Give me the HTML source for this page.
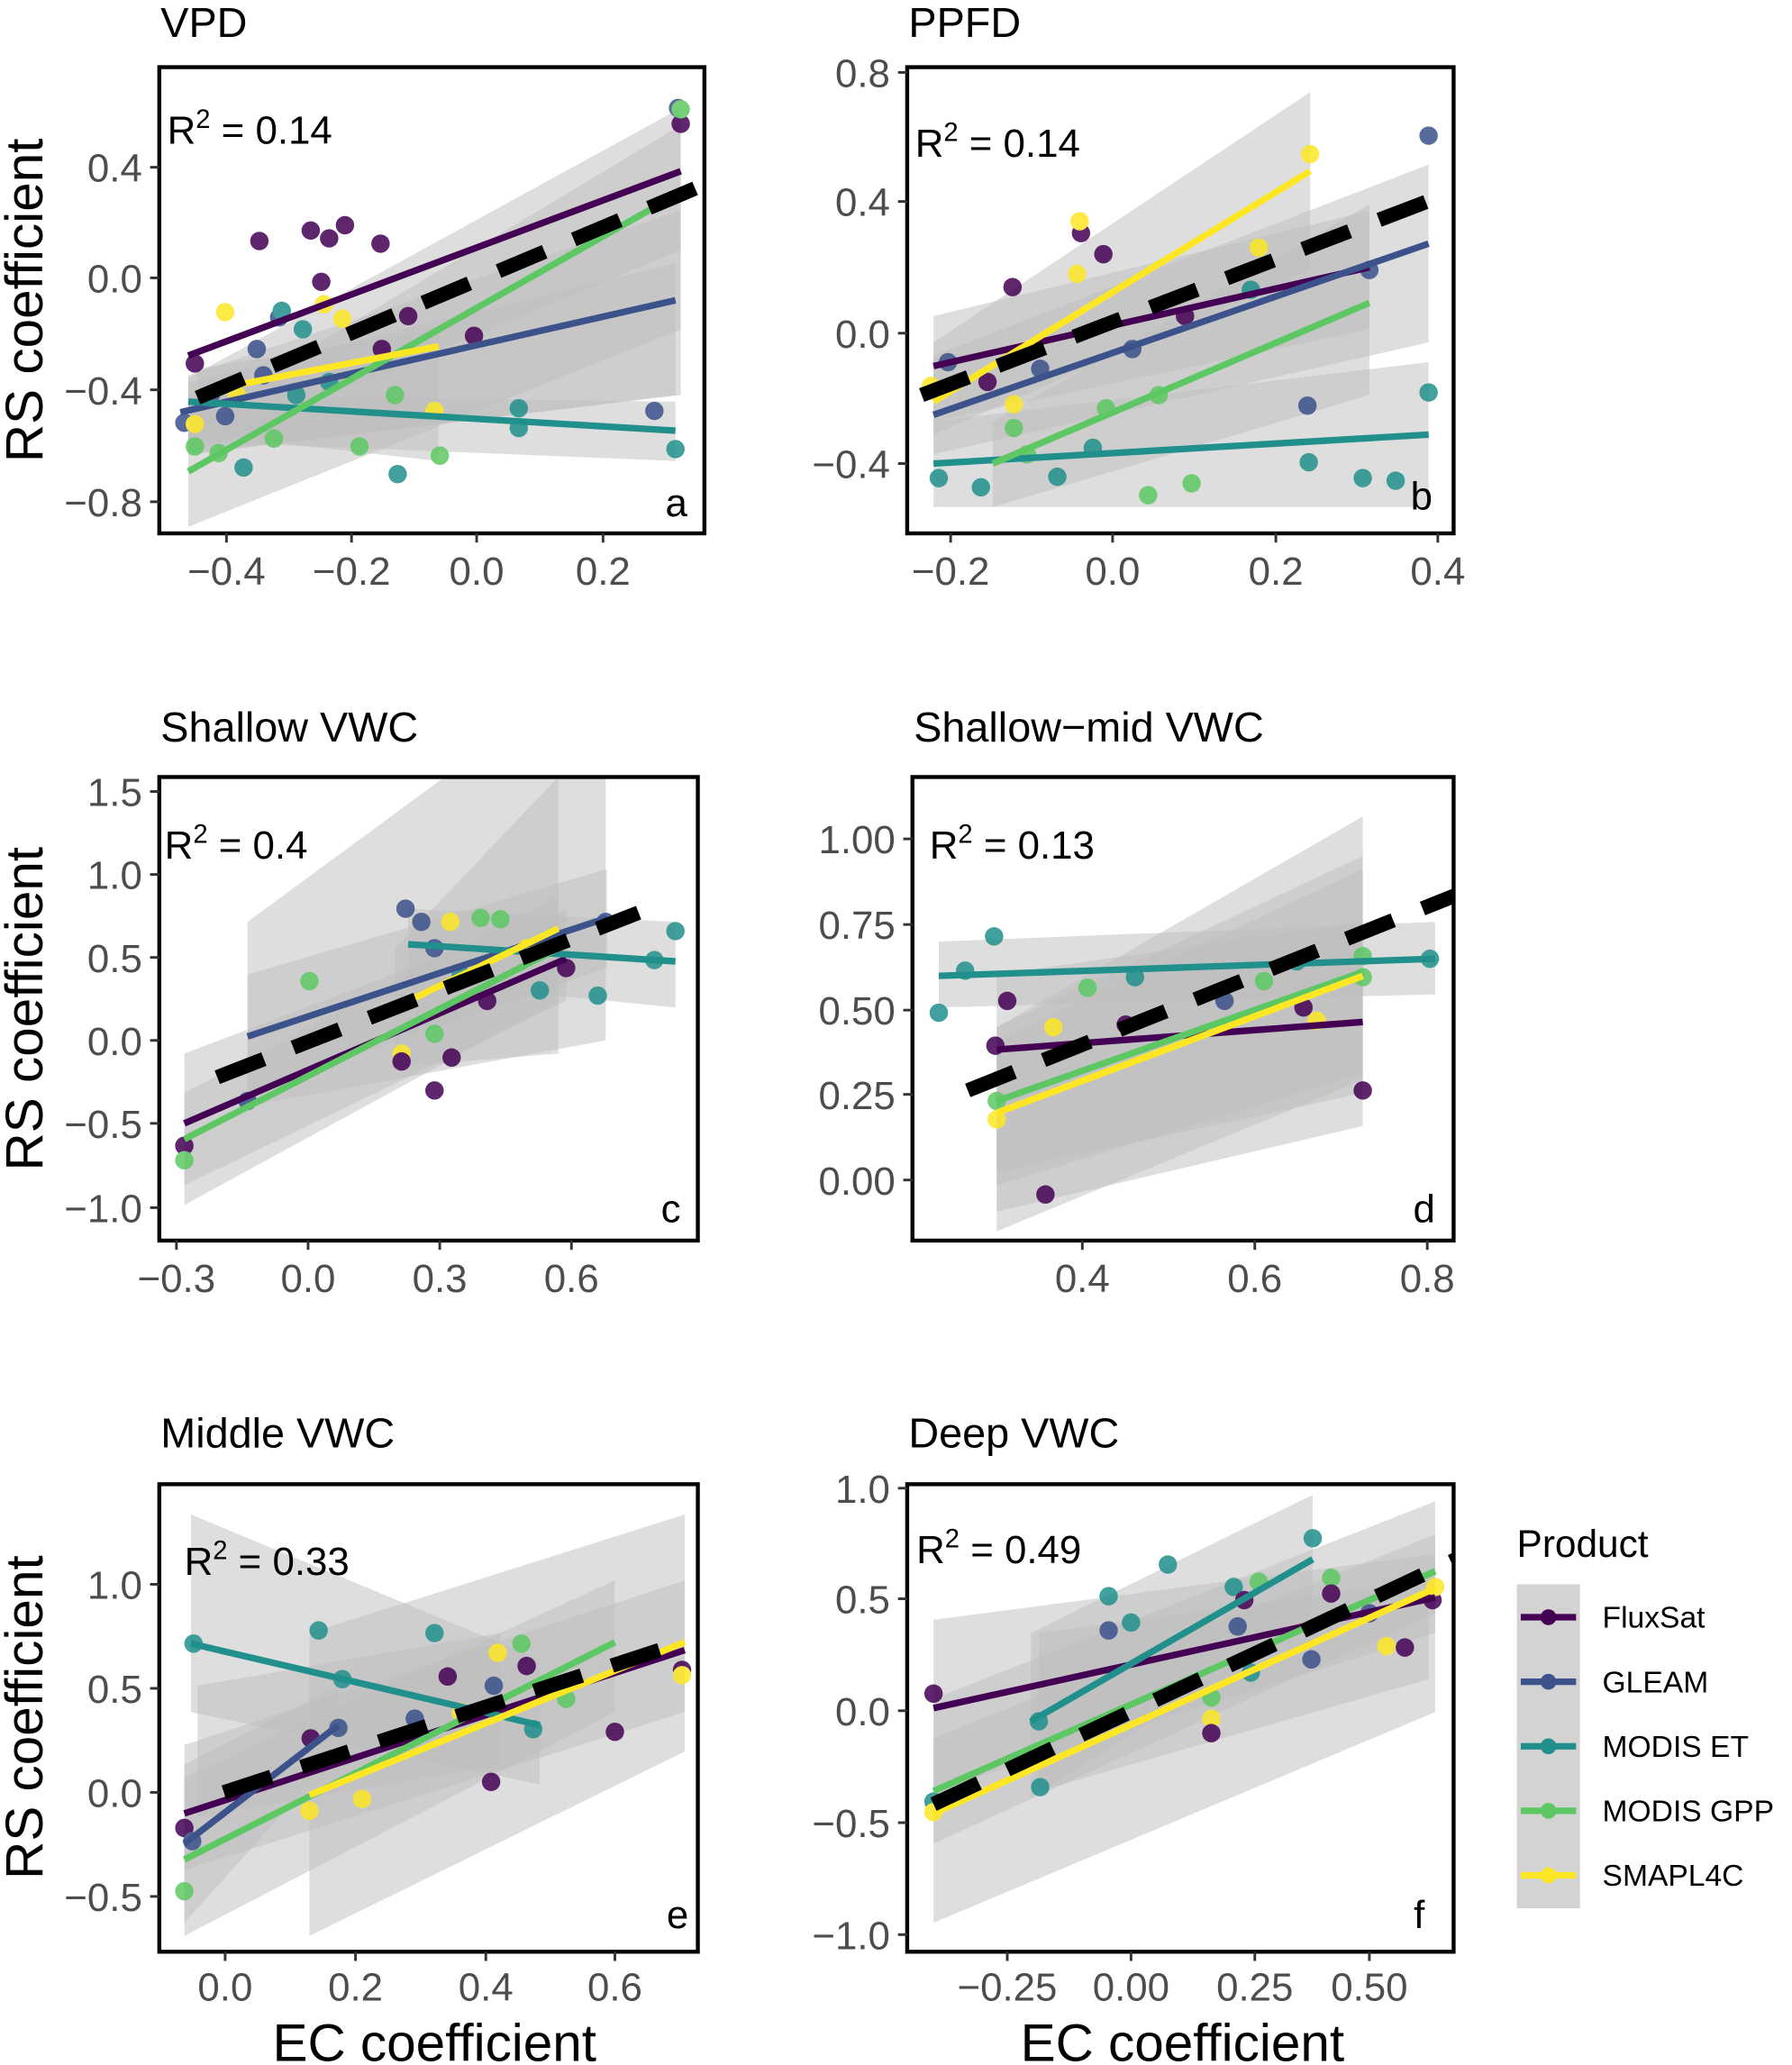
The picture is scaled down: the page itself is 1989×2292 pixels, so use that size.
<!DOCTYPE html>
<html><head><meta charset="utf-8"><style>
html,body{margin:0;padding:0;background:#fff}
svg{display:block}
text{font-family:"Liberation Sans",sans-serif}
.tk{font-size:30px;fill:#4d4d4d}
.tt{font-size:32px;fill:#000}
.r2{font-size:30px;fill:#000}
.lb{font-size:30px;fill:#000}
.ax{font-size:40px;fill:#000}
.bx{fill:none;stroke:#000;stroke-width:3}
.band{fill:#bdbdbd;opacity:.5}
.ln{stroke-width:5;fill:none}
.bk{stroke:#000;stroke-width:11;stroke-dasharray:38 24;fill:none}
.tic{stroke:#333;stroke-width:2}
</style></head><body>
<svg width="1989" height="2292" viewBox="0 0 1361 1568" preserveAspectRatio="none" xmlns="http://www.w3.org/2000/svg">
<defs>
<clipPath id="ca"><rect x="121" y="51" width="414" height="354"/></clipPath>
<clipPath id="cb"><rect x="689" y="51" width="415" height="354"/></clipPath>
<clipPath id="cc"><rect x="121" y="590" width="409" height="352"/></clipPath>
<clipPath id="cd"><rect x="693" y="590" width="411" height="352"/></clipPath>
<clipPath id="ce"><rect x="121" y="1127" width="409" height="355"/></clipPath>
<clipPath id="cf"><rect x="689" y="1127" width="415" height="355"/></clipPath>
</defs>

<!-- ===== Panel a ===== -->
<text class="tt" x="122" y="28">VPD</text>
<g clip-path="url(#ca)">
<polygon class="band" points="143,287 517,82 517,190 143,345"/>
<polygon class="band" points="143,285 517,160 517,300 143,345"/>
<polygon class="band" points="143,290 513,200 513,300 143,345"/>
<polygon class="band" points="143,300 513,305 513,350 143,335"/>
<polygon class="band" points="143,320 517,95 517,250 143,400"/>
<polygon class="band" points="150,280 333,250 333,350 150,330"/>
<g opacity=".85">
<circle cx="197" cy="183" r="7" fill="#440154"/><circle cx="236" cy="175" r="7" fill="#440154"/><circle cx="250" cy="181" r="7" fill="#440154"/><circle cx="262" cy="171" r="7" fill="#440154"/><circle cx="289" cy="185" r="7" fill="#440154"/><circle cx="244" cy="214" r="7" fill="#440154"/><circle cx="517" cy="94" r="7" fill="#440154"/><circle cx="212" cy="241" r="7" fill="#3b528b"/><circle cx="148" cy="276" r="7" fill="#440154"/><circle cx="195" cy="265" r="7" fill="#3b528b"/><circle cx="140" cy="321" r="7" fill="#3b528b"/><circle cx="515" cy="82" r="7" fill="#3b528b"/><circle cx="497" cy="312" r="7" fill="#3b528b"/><circle cx="171" cy="316" r="7" fill="#3b528b"/><circle cx="214" cy="236" r="7" fill="#21908c"/><circle cx="230" cy="250" r="7" fill="#21908c"/><circle cx="302" cy="360" r="7" fill="#21908c"/><circle cx="394" cy="310" r="7" fill="#21908c"/><circle cx="394" cy="325" r="7" fill="#21908c"/><circle cx="513" cy="341" r="7" fill="#21908c"/><circle cx="185" cy="355" r="7" fill="#21908c"/><circle cx="517" cy="83" r="7" fill="#5dc863"/><circle cx="273" cy="339" r="7" fill="#5dc863"/><circle cx="334" cy="346" r="7" fill="#5dc863"/><circle cx="148" cy="339" r="7" fill="#5dc863"/><circle cx="166" cy="344" r="7" fill="#5dc863"/><circle cx="208" cy="333" r="7" fill="#5dc863"/><circle cx="171" cy="237" r="7" fill="#fde725"/><circle cx="246" cy="231" r="7" fill="#fde725"/><circle cx="260" cy="242" r="7" fill="#fde725"/><circle cx="148" cy="322" r="7" fill="#fde725"/><circle cx="180" cy="300" r="7" fill="#fde725"/><circle cx="330" cy="312" r="7" fill="#fde725"/>
<circle cx="200" cy="285" r="7" fill="#3b528b"/><circle cx="225" cy="300" r="7" fill="#21908c"/><circle cx="290" cy="265" r="7" fill="#440154"/><circle cx="310" cy="240" r="7" fill="#440154"/><circle cx="360" cy="255" r="7" fill="#440154"/><circle cx="300" cy="300" r="7" fill="#5dc863"/><circle cx="250" cy="290" r="7" fill="#21908c"/><circle cx="160" cy="300" r="7" fill="#3b528b"/>
</g>
<line class="ln" x1="143" y1="270" x2="517" y2="130" stroke="#440154"/>
<line class="ln" x1="137" y1="313" x2="513" y2="228" stroke="#3b528b"/>
<line class="ln" x1="143" y1="305" x2="513" y2="327" stroke="#21908c"/>
<line class="ln" x1="143" y1="358" x2="517" y2="146" stroke="#5dc863"/>
<line class="ln" x1="150" y1="298" x2="333" y2="263" stroke="#fde725"/>
<line class="bk" x1="150" y1="302" x2="540" y2="138"/>
</g>
<rect class="bx" x="121" y="51" width="414" height="354"/>
<text class="r2" x="127" y="109">R<tspan dy="-12" font-size="20">2</tspan><tspan dy="12"> = 0.14</tspan></text>
<text class="lb" x="522" y="392" text-anchor="end">a</text>
<g class="tk" text-anchor="end"><text x="108" y="138">0.4</text><text x="108" y="222">0.0</text><text x="108" y="307">−0.4</text><text x="108" y="392">−0.8</text></g>
<g class="tic"><line x1="114" y1="127" x2="121" y2="127"/><line x1="114" y1="211" x2="121" y2="211"/><line x1="114" y1="296" x2="121" y2="296"/><line x1="114" y1="381" x2="121" y2="381"/>
<line x1="172" y1="405" x2="172" y2="412"/><line x1="267" y1="405" x2="267" y2="412"/><line x1="362" y1="405" x2="362" y2="412"/><line x1="458" y1="405" x2="458" y2="412"/></g>
<g class="tk" text-anchor="middle"><text x="172" y="444">−0.4</text><text x="267" y="444">−0.2</text><text x="362" y="444">0.0</text><text x="458" y="444">0.2</text></g>

<!-- ===== Panel b ===== -->
<text class="tt" x="690" y="28">PPFD</text>
<g clip-path="url(#cb)">
<polygon class="band" points="709,240 1040,160 1040,250 709,320"/>
<polygon class="band" points="709,270 1085,125 1085,260 709,345"/>
<polygon class="band" points="709,320 1085,275 1085,385 709,385"/>
<polygon class="band" points="754,320 1040,155 1040,300 754,385"/>
<polygon class="band" points="709,260 995,70 995,205 709,330"/>
<g opacity=".85">
<circle cx="769" cy="218" r="7" fill="#440154"/><circle cx="821" cy="177" r="7" fill="#440154"/><circle cx="838" cy="193" r="7" fill="#440154"/><circle cx="820" cy="168" r="7" fill="#fde725"/><circle cx="818" cy="208" r="7" fill="#fde725"/><circle cx="995" cy="117" r="7" fill="#fde725"/><circle cx="1085" cy="103" r="7" fill="#3b528b"/><circle cx="993" cy="308" r="7" fill="#3b528b"/><circle cx="1085" cy="298" r="7" fill="#21908c"/><circle cx="713" cy="363" r="7" fill="#21908c"/><circle cx="745" cy="370" r="7" fill="#21908c"/><circle cx="803" cy="362" r="7" fill="#21908c"/><circle cx="994" cy="351" r="7" fill="#21908c"/><circle cx="1035" cy="363" r="7" fill="#21908c"/><circle cx="1060" cy="365" r="7" fill="#21908c"/><circle cx="872" cy="376" r="7" fill="#5dc863"/><circle cx="905" cy="367" r="7" fill="#5dc863"/><circle cx="770" cy="325" r="7" fill="#5dc863"/><circle cx="840" cy="310" r="7" fill="#5dc863"/><circle cx="707" cy="293" r="7" fill="#fde725"/><circle cx="770" cy="307" r="7" fill="#fde725"/><circle cx="956" cy="188" r="7" fill="#fde725"/>
<circle cx="720" cy="275" r="7" fill="#3b528b"/><circle cx="750" cy="290" r="7" fill="#440154"/><circle cx="790" cy="280" r="7" fill="#3b528b"/><circle cx="860" cy="265" r="7" fill="#3b528b"/><circle cx="900" cy="240" r="7" fill="#440154"/><circle cx="950" cy="220" r="7" fill="#21908c"/><circle cx="1040" cy="205" r="7" fill="#3b528b"/><circle cx="830" cy="340" r="7" fill="#21908c"/><circle cx="880" cy="300" r="7" fill="#5dc863"/><circle cx="780" cy="345" r="7" fill="#5dc863"/>
</g>
<line class="ln" x1="709" y1="278" x2="1040" y2="203" stroke="#440154"/>
<line class="ln" x1="709" y1="315" x2="1085" y2="185" stroke="#3b528b"/>
<line class="ln" x1="709" y1="352" x2="1085" y2="330" stroke="#21908c"/>
<line class="ln" x1="754" y1="352" x2="1040" y2="230" stroke="#5dc863"/>
<line class="ln" x1="709" y1="305" x2="995" y2="130" stroke="#fde725"/>
<line class="bk" x1="700" y1="300" x2="1110" y2="143"/>
</g>
<rect class="bx" x="689" y="51" width="415" height="354"/>
<text class="r2" x="695" y="119">R<tspan dy="-12" font-size="20">2</tspan><tspan dy="12"> = 0.14</tspan></text>
<text class="lb" x="1088" y="387" text-anchor="end">b</text>
<g class="tk" text-anchor="end"><text x="676" y="66">0.8</text><text x="676" y="164">0.4</text><text x="676" y="264">0.0</text><text x="676" y="363">−0.4</text></g>
<g class="tic"><line x1="682" y1="55" x2="689" y2="55"/><line x1="682" y1="153" x2="689" y2="153"/><line x1="682" y1="253" x2="689" y2="253"/><line x1="682" y1="352" x2="689" y2="352"/>
<line x1="722" y1="405" x2="722" y2="412"/><line x1="845" y1="405" x2="845" y2="412"/><line x1="969" y1="405" x2="969" y2="412"/><line x1="1092" y1="405" x2="1092" y2="412"/></g>
<g class="tk" text-anchor="middle"><text x="722" y="444">−0.2</text><text x="845" y="444">0.0</text><text x="969" y="444">0.2</text><text x="1092" y="444">0.4</text></g>

<!-- ===== Panel c ===== -->
<text class="tt" x="122" y="563">Shallow VWC</text>
<g clip-path="url(#cc)">
<polygon class="band" points="140,800 430,690 430,760 140,900"/>
<polygon class="band" points="188,740 461,660 461,735 188,830"/>
<polygon class="band" points="310,690 513,700 513,765 310,745"/>
<polygon class="band" points="140,830 424,680 424,760 140,915"/>
<polygon class="band" points="300,720 424,590 424,800 300,810"/>
<polygon class="band" points="188,700 460,500 460,790 188,840"/>
<g opacity=".85">
<circle cx="140" cy="870" r="7" fill="#440154"/><circle cx="140" cy="881" r="7" fill="#5dc863"/><circle cx="188" cy="836" r="7" fill="#3b528b"/><circle cx="235" cy="745" r="7" fill="#5dc863"/><circle cx="308" cy="690" r="7" fill="#3b528b"/><circle cx="320" cy="700" r="7" fill="#3b528b"/><circle cx="342" cy="700" r="7" fill="#fde725"/><circle cx="305" cy="800" r="7" fill="#fde725"/><circle cx="305" cy="806" r="7" fill="#440154"/><circle cx="330" cy="828" r="7" fill="#440154"/><circle cx="343" cy="803" r="7" fill="#440154"/><circle cx="330" cy="785" r="7" fill="#5dc863"/><circle cx="454" cy="756" r="7" fill="#21908c"/><circle cx="513" cy="707" r="7" fill="#21908c"/><circle cx="497" cy="729" r="7" fill="#21908c"/><circle cx="410" cy="752" r="7" fill="#21908c"/><circle cx="365" cy="697" r="7" fill="#5dc863"/><circle cx="380" cy="698" r="7" fill="#5dc863"/><circle cx="430" cy="735" r="7" fill="#440154"/><circle cx="460" cy="700" r="7" fill="#3b528b"/><circle cx="350" cy="740" r="7" fill="#21908c"/><circle cx="400" cy="720" r="7" fill="#fde725"/><circle cx="370" cy="760" r="7" fill="#440154"/><circle cx="330" cy="720" r="7" fill="#3b528b"/>
</g>
<line class="ln" x1="140" y1="853" x2="430" y2="728" stroke="#440154"/>
<line class="ln" x1="188" y1="787" x2="461" y2="697" stroke="#3b528b"/>
<line class="ln" x1="310" y1="717" x2="513" y2="730" stroke="#21908c"/>
<line class="ln" x1="140" y1="865" x2="424" y2="720" stroke="#5dc863"/>
<line class="ln" x1="300" y1="765" x2="424" y2="705" stroke="#fde725"/>
<line class="bk" x1="165" y1="818" x2="485" y2="693"/>
</g>
<rect class="bx" x="121" y="590" width="409" height="352"/>
<text class="r2" x="125" y="652">R<tspan dy="-12" font-size="20">2</tspan><tspan dy="12"> = 0.4</tspan></text>
<text class="lb" x="517" y="928" text-anchor="end">c</text>
<g class="tk" text-anchor="end"><text x="108" y="612">1.5</text><text x="108" y="675">1.0</text><text x="108" y="738">0.5</text><text x="108" y="801">0.0</text><text x="108" y="864">−0.5</text><text x="108" y="928">−1.0</text></g>
<g class="tic"><line x1="114" y1="601" x2="121" y2="601"/><line x1="114" y1="664" x2="121" y2="664"/><line x1="114" y1="727" x2="121" y2="727"/><line x1="114" y1="790" x2="121" y2="790"/><line x1="114" y1="853" x2="121" y2="853"/><line x1="114" y1="917" x2="121" y2="917"/>
<line x1="134" y1="942" x2="134" y2="949"/><line x1="234" y1="942" x2="234" y2="949"/><line x1="334" y1="942" x2="334" y2="949"/><line x1="434" y1="942" x2="434" y2="949"/></g>
<g class="tk" text-anchor="middle"><text x="134" y="981">−0.3</text><text x="234" y="981">0.0</text><text x="334" y="981">0.3</text><text x="434" y="981">0.6</text></g>

<!-- ===== Panel d ===== -->
<text class="tt" x="694" y="563">Shallow−mid VWC</text>
<g clip-path="url(#cd)">
<polygon class="band" points="757,740 1035,700 1035,855 757,920"/>
<polygon class="band" points="713,715 1090,700 1090,755 713,765"/>
<polygon class="band" points="757,780 1035,650 1035,830 757,890"/>
<polygon class="band" points="757,780 1035,620 1035,820 757,935"/>
<polygon class="band" points="757,790 1035,660 1035,815 757,900"/>
<g opacity=".85">
<circle cx="713" cy="769" r="7" fill="#21908c"/><circle cx="755" cy="711" r="7" fill="#21908c"/><circle cx="733" cy="737" r="7" fill="#21908c"/><circle cx="756" cy="794" r="7" fill="#440154"/><circle cx="757" cy="836" r="7" fill="#5dc863"/><circle cx="757" cy="850" r="7" fill="#fde725"/><circle cx="794" cy="907" r="7" fill="#440154"/><circle cx="1035" cy="828" r="7" fill="#440154"/><circle cx="1086" cy="728" r="7" fill="#21908c"/><circle cx="1035" cy="726" r="7" fill="#5dc863"/><circle cx="1035" cy="742" r="7" fill="#5dc863"/><circle cx="765" cy="760" r="7" fill="#440154"/><circle cx="800" cy="780" r="7" fill="#fde725"/><circle cx="826" cy="750" r="7" fill="#5dc863"/><circle cx="855" cy="778" r="7" fill="#440154"/><circle cx="862" cy="742" r="7" fill="#21908c"/><circle cx="930" cy="760" r="7" fill="#3b528b"/><circle cx="990" cy="765" r="7" fill="#440154"/><circle cx="985" cy="730" r="7" fill="#21908c"/><circle cx="1000" cy="775" r="7" fill="#fde725"/><circle cx="960" cy="745" r="7" fill="#5dc863"/>
</g>
<line class="ln" x1="757" y1="797" x2="1035" y2="776" stroke="#440154"/>
<line class="ln" x1="713" y1="741" x2="1090" y2="728" stroke="#21908c"/>
<line class="ln" x1="757" y1="836" x2="1035" y2="738" stroke="#5dc863"/>
<line class="ln" x1="757" y1="845" x2="1035" y2="741" stroke="#fde725"/>
<line class="bk" x1="735" y1="828" x2="1110" y2="678"/>
</g>
<rect class="bx" x="693" y="590" width="411" height="352"/>
<text class="r2" x="706" y="652">R<tspan dy="-12" font-size="20">2</tspan><tspan dy="12"> = 0.13</tspan></text>
<text class="lb" x="1090" y="928" text-anchor="end">d</text>
<g class="tk" text-anchor="end"><text x="680" y="648">1.00</text><text x="680" y="713">0.75</text><text x="680" y="778">0.50</text><text x="680" y="842">0.25</text><text x="680" y="907">0.00</text></g>
<g class="tic"><line x1="686" y1="637" x2="693" y2="637"/><line x1="686" y1="702" x2="693" y2="702"/><line x1="686" y1="767" x2="693" y2="767"/><line x1="686" y1="831" x2="693" y2="831"/><line x1="686" y1="896" x2="693" y2="896"/>
<line x1="822" y1="942" x2="822" y2="949"/><line x1="953" y1="942" x2="953" y2="949"/><line x1="1084" y1="942" x2="1084" y2="949"/></g>
<g class="tk" text-anchor="middle"><text x="822" y="981">0.4</text><text x="953" y="981">0.6</text><text x="1084" y="981">0.8</text></g>

<!-- ===== Panel e ===== -->
<text class="tt" x="122" y="1099">Middle VWC</text>
<g clip-path="url(#ce)">
<polygon class="band" points="140,1325 520,1200 520,1300 140,1420"/>
<polygon class="band" points="140,1340 257,1280 257,1330 140,1460"/>
<polygon class="band" points="145,1150 410,1260 410,1355 145,1300"/>
<polygon class="band" points="140,1350 467,1200 467,1300 140,1470"/>
<polygon class="band" points="235,1240 520,1150 520,1330 235,1470"/>
<polygon class="band" points="150,1280 380,1240 380,1340 150,1380"/>
<g opacity=".85">
<circle cx="140" cy="1388" r="7" fill="#440154"/><circle cx="140" cy="1436" r="7" fill="#5dc863"/><circle cx="146" cy="1398" r="7" fill="#3b528b"/><circle cx="147" cy="1248" r="7" fill="#21908c"/><circle cx="242" cy="1238" r="7" fill="#21908c"/><circle cx="260" cy="1275" r="7" fill="#21908c"/><circle cx="330" cy="1240" r="7" fill="#21908c"/><circle cx="257" cy="1312" r="7" fill="#3b528b"/><circle cx="236" cy="1320" r="7" fill="#440154"/><circle cx="235" cy="1375" r="7" fill="#fde725"/><circle cx="275" cy="1366" r="7" fill="#fde725"/><circle cx="373" cy="1353" r="7" fill="#440154"/><circle cx="467" cy="1315" r="7" fill="#440154"/><circle cx="518" cy="1268" r="7" fill="#440154"/><circle cx="518" cy="1272" r="7" fill="#fde725"/><circle cx="378" cy="1255" r="7" fill="#fde725"/><circle cx="396" cy="1248" r="7" fill="#5dc863"/><circle cx="340" cy="1273" r="7" fill="#440154"/><circle cx="405" cy="1313" r="7" fill="#21908c"/><circle cx="375" cy="1280" r="7" fill="#3b528b"/><circle cx="430" cy="1290" r="7" fill="#5dc863"/><circle cx="350" cy="1300" r="7" fill="#fde725"/><circle cx="400" cy="1265" r="7" fill="#440154"/><circle cx="315" cy="1305" r="7" fill="#3b528b"/>
</g>
<line class="ln" x1="140" y1="1377" x2="520" y2="1253" stroke="#440154"/>
<line class="ln" x1="140" y1="1400" x2="257" y2="1310" stroke="#3b528b"/>
<line class="ln" x1="145" y1="1248" x2="410" y2="1310" stroke="#21908c"/>
<line class="ln" x1="140" y1="1412" x2="467" y2="1247" stroke="#5dc863"/>
<line class="ln" x1="235" y1="1363" x2="520" y2="1247" stroke="#fde725"/>
<line class="bk" x1="170" y1="1361" x2="510" y2="1250"/>
</g>
<rect class="bx" x="121" y="1127" width="409" height="355"/>
<text class="r2" x="140" y="1196">R<tspan dy="-12" font-size="20">2</tspan><tspan dy="12"> = 0.33</tspan></text>
<text class="lb" x="523" y="1464" text-anchor="end">e</text>
<g class="tk" text-anchor="end"><text x="108" y="1214">1.0</text><text x="108" y="1293">0.5</text><text x="108" y="1372">0.0</text><text x="108" y="1451">−0.5</text></g>
<g class="tic"><line x1="114" y1="1203" x2="121" y2="1203"/><line x1="114" y1="1282" x2="121" y2="1282"/><line x1="114" y1="1361" x2="121" y2="1361"/><line x1="114" y1="1440" x2="121" y2="1440"/>
<line x1="171" y1="1482" x2="171" y2="1489"/><line x1="270" y1="1482" x2="270" y2="1489"/><line x1="369" y1="1482" x2="369" y2="1489"/><line x1="467" y1="1482" x2="467" y2="1489"/></g>
<g class="tk" text-anchor="middle"><text x="171" y="1519">0.0</text><text x="270" y="1519">0.2</text><text x="369" y="1519">0.4</text><text x="467" y="1519">0.6</text></g>

<!-- ===== Panel f ===== -->
<text class="tt" x="690" y="1099">Deep VWC</text>
<g clip-path="url(#cf)">
<polygon class="band" points="709,1230 1090,1180 1090,1240 709,1360"/>
<polygon class="band" points="783,1240 997,1135 997,1230 783,1365"/>
<polygon class="band" points="709,1320 1090,1165 1090,1225 709,1400"/>
<polygon class="band" points="709,1290 1090,1140 1090,1300 709,1460"/>
<polygon class="band" points="789,1240 1085,1200 1085,1275 789,1360"/>
<g opacity=".85">
<circle cx="709" cy="1286" r="7" fill="#440154"/><circle cx="709" cy="1368" r="7" fill="#21908c"/><circle cx="709" cy="1376" r="7" fill="#fde725"/><circle cx="789" cy="1307" r="7" fill="#21908c"/><circle cx="790" cy="1357" r="7" fill="#21908c"/><circle cx="842" cy="1212" r="7" fill="#21908c"/><circle cx="842" cy="1238" r="7" fill="#3b528b"/><circle cx="859" cy="1232" r="7" fill="#21908c"/><circle cx="887" cy="1188" r="7" fill="#21908c"/><circle cx="920" cy="1289" r="7" fill="#5dc863"/><circle cx="920" cy="1305" r="7" fill="#fde725"/><circle cx="920" cy="1316" r="7" fill="#440154"/><circle cx="997" cy="1168" r="7" fill="#21908c"/><circle cx="1011" cy="1198" r="7" fill="#5dc863"/><circle cx="1011" cy="1210" r="7" fill="#440154"/><circle cx="1053" cy="1250" r="7" fill="#fde725"/><circle cx="1067" cy="1251" r="7" fill="#440154"/><circle cx="1088" cy="1215" r="7" fill="#440154"/><circle cx="1090" cy="1205" r="7" fill="#fde725"/><circle cx="956" cy="1201" r="7" fill="#5dc863"/><circle cx="937" cy="1205" r="7" fill="#21908c"/><circle cx="945" cy="1215" r="7" fill="#440154"/><circle cx="996" cy="1260" r="7" fill="#3b528b"/><circle cx="940" cy="1235" r="7" fill="#3b528b"/><circle cx="1040" cy="1225" r="7" fill="#3b528b"/><circle cx="950" cy="1270" r="7" fill="#21908c"/>
</g>
<line class="ln" x1="709" y1="1297" x2="1090" y2="1213" stroke="#440154"/>
<line class="ln" x1="783" y1="1307" x2="997" y2="1184" stroke="#21908c"/>
<line class="ln" x1="709" y1="1360" x2="1090" y2="1193" stroke="#5dc863"/>
<line class="ln" x1="709" y1="1377" x2="1090" y2="1206" stroke="#fde725"/>
<line class="bk" x1="709" y1="1370" x2="1110" y2="1182"/>
</g>
<rect class="bx" x="689" y="1127" width="415" height="355"/>
<text class="r2" x="696" y="1187">R<tspan dy="-12" font-size="20">2</tspan><tspan dy="12"> = 0.49</tspan></text>
<text class="lb" x="1082" y="1464" text-anchor="end">f</text>
<g class="tk" text-anchor="end"><text x="676" y="1141">1.0</text><text x="676" y="1225">0.5</text><text x="676" y="1310">0.0</text><text x="676" y="1395">−0.5</text><text x="676" y="1480">−1.0</text></g>
<g class="tic"><line x1="682" y1="1130" x2="689" y2="1130"/><line x1="682" y1="1214" x2="689" y2="1214"/><line x1="682" y1="1299" x2="689" y2="1299"/><line x1="682" y1="1384" x2="689" y2="1384"/><line x1="682" y1="1469" x2="689" y2="1469"/>
<line x1="765" y1="1482" x2="765" y2="1489"/><line x1="859" y1="1482" x2="859" y2="1489"/><line x1="953" y1="1482" x2="953" y2="1489"/><line x1="1040" y1="1482" x2="1040" y2="1489"/></g>
<g class="tk" text-anchor="middle"><text x="765" y="1519">−0.25</text><text x="859" y="1519">0.00</text><text x="953" y="1519">0.25</text><text x="1040" y="1519">0.50</text></g>

<!-- Legend -->
<text class="tt" x="1152" y="1182" style="font-size:29px">Product</text>
<rect x="1152" y="1203" width="48" height="246" fill="#d3d3d3"/>
<g stroke-width="5">
<line x1="1155" y1="1228" x2="1197" y2="1228" stroke="#440154"/><circle cx="1176" cy="1228" r="6" fill="#440154"/>
<line x1="1155" y1="1277" x2="1197" y2="1277" stroke="#3b528b"/><circle cx="1176" cy="1277" r="6" fill="#3b528b"/>
<line x1="1155" y1="1326" x2="1197" y2="1326" stroke="#21908c"/><circle cx="1176" cy="1326" r="6" fill="#21908c"/>
<line x1="1155" y1="1375" x2="1197" y2="1375" stroke="#5dc863"/><circle cx="1176" cy="1375" r="6" fill="#5dc863"/>
<line x1="1155" y1="1424" x2="1197" y2="1424" stroke="#fde725"/><circle cx="1176" cy="1424" r="6" fill="#fde725"/>
</g>
<g style="font-size:23px" fill="#000"><text x="1217" y="1236">FluxSat</text><text x="1217" y="1285">GLEAM</text><text x="1217" y="1334">MODIS ET</text><text x="1217" y="1383">MODIS GPP</text><text x="1217" y="1432">SMAPL4C</text></g>

<!-- Axis titles -->
<text class="ax" transform="translate(32,228) rotate(-90)" text-anchor="middle">RS coefficient</text>
<text class="ax" transform="translate(32,766) rotate(-90)" text-anchor="middle">RS coefficient</text>
<text class="ax" transform="translate(32,1304) rotate(-90)" text-anchor="middle">RS coefficient</text>
<text class="ax" x="330" y="1565" text-anchor="middle">EC coefficient</text>
<text class="ax" x="898" y="1565" text-anchor="middle">EC coefficient</text>
</svg>
</body></html>
